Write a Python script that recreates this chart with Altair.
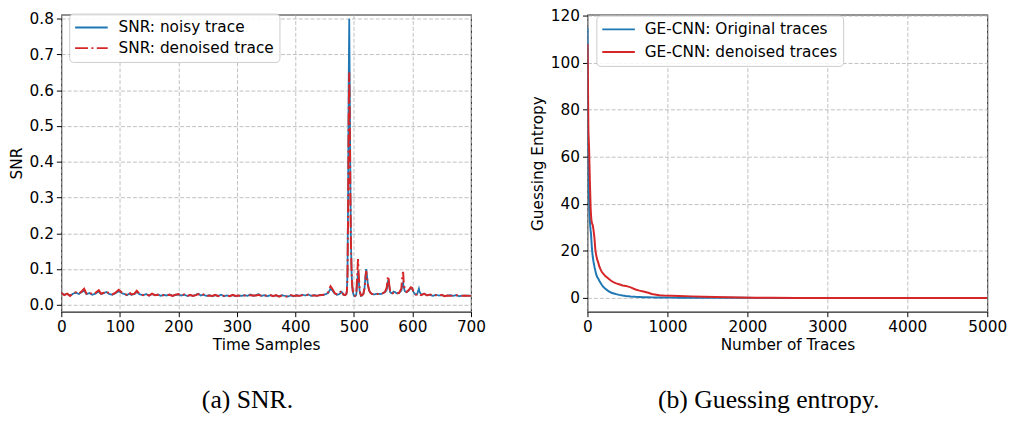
import altair as alt
import pandas as pd

# ---------------- left panel: SNR ----------------
snr_x = [0, 5, 10, 15, 20, 25, 30, 35, 39, 43,
         48, 53, 58, 64, 68, 73, 77, 82, 87, 92,
         98, 103, 108, 112, 116, 120, 125, 129, 134, 140,
         145, 150, 155, 160, 165, 170, 175, 180, 185, 190,
         195, 200, 205, 210, 215, 220, 225, 230, 234, 238,
         243, 248, 253, 258, 263, 268, 273, 278, 283, 288,
         293, 298, 303, 308, 313, 318, 323, 328, 333, 337,
         342, 347, 352, 357, 362, 367, 372, 377, 382, 387,
         392, 397, 402, 407, 412, 417, 422, 427, 432, 437,
         442, 447, 452, 456, 460, 463, 467, 471, 475, 479,
         482, 485, 487, 488, 489, 490, 491, 492, 493, 494,
         495, 496, 497, 498, 499, 500, 502, 504, 506, 507,
         508, 510, 512, 514, 516, 518, 520, 521, 522, 524,
         526, 528, 531, 535, 540, 545, 549, 553, 556, 558,
         559, 560, 562, 565, 568, 570, 573, 577, 581, 583,
         584, 585, 587, 590, 594, 597, 599, 602, 605, 608,
         610, 611, 612, 615, 620, 625, 630, 635, 640, 645,
         650, 655, 660, 665, 670, 675, 680, 685, 690, 695,
         700]
snr_noisy = [.033, .028, .030, .026, .031, .034, .030, .036, .040, .030,
             .033, .028, .031, .037, .030, .033, .036, .030, .028, .032,
             .038, .033, .030, .027, .031, .028, .030, .036, .029, .027,
             .030, .026, .030, .027, .029, .025, .028, .026, .029, .025,
             .027, .029, .026, .028, .025, .027, .025, .028, .031, .026,
             .028, .025, .027, .024, .027, .025, .028, .024, .026, .025,
             .027, .024, .026, .025, .027, .025, .029, .025, .027, .030,
             .025, .027, .024, .027, .025, .026, .024, .027, .025, .023,
             .026, .024, .027, .025, .028, .026, .029, .025, .027, .025,
             .028, .027, .030, .033, .045, .040, .032, .028, .030, .036,
             .028, .027, .030, .040, .090, .300, .620, .800, .580, .330,
             .170, .090, .055, .038, .030, .025, .024, .028, .070, .095,
             .070, .035, .025, .026, .030, .045, .085, .100, .085, .055,
             .040, .034, .030, .029, .031, .030, .032, .035, .042, .065,
             .070, .055, .035, .032, .037, .036, .032, .033, .040, .058,
             .062, .050, .038, .035, .040, .048, .046, .035, .029, .030,
             .040, .045, .037, .028, .030, .027, .028, .025, .028, .026,
             .027, .025, .026, .027, .025, .027, .024, .026, .025, .026,
             .025]
snr_denoised = [.034, .027, .031, .025, .032, .035, .031, .038, .045, .031,
                .035, .029, .033, .041, .031, .034, .038, .031, .029, .033,
                .042, .035, .031, .028, .035, .029, .031, .039, .030, .027,
                .030, .026, .031, .027, .028, .026, .027, .027, .028, .025,
                .028, .030, .025, .029, .024, .028, .025, .027, .030, .026,
                .029, .024, .026, .025, .028, .024, .027, .025, .026, .024,
                .028, .025, .026, .024, .026, .025, .027, .026, .026, .028,
                .025, .026, .025, .027, .024, .027, .023, .026, .024, .022,
                .027, .025, .026, .025, .027, .027, .028, .026, .026, .025,
                .027, .028, .030, .035, .052, .045, .033, .029, .032, .040,
                .029, .027, .030, .038, .080, .250, .520, .650, .500, .300,
                .160, .090, .055, .040, .031, .026, .025, .030, .095, .128,
                .090, .038, .026, .027, .030, .045, .080, .095, .080, .055,
                .040, .034, .030, .030, .030, .031, .032, .036, .048, .078,
                .080, .060, .036, .031, .034, .033, .032, .033, .045, .085,
                .092, .065, .040, .036, .042, .049, .048, .036, .029, .028,
                .030, .031, .029, .027, .031, .026, .029, .026, .027, .025,
                .028, .024, .026, .025, .026, .027, .025, .025, .026, .025,
                .025]

snr_x_ticks = [0, 100, 200, 300, 400, 500, 600, 700]
snr_y_ticks = [0.0, 0.1, 0.2, 0.3, 0.4, 0.5, 0.6, 0.7, 0.8]

# ---------------- right panel: guessing entropy ----------------
ge_x = [0, 4, 8, 12, 16, 20, 25, 30, 35, 40,
        45, 50, 55, 60, 66, 75, 86, 99, 110, 120,
        135, 148, 165, 180, 200, 220, 250, 272, 300, 330,
        360, 395, 440, 480, 540, 601, 650, 700, 760, 806,
        860, 900, 971, 1050, 1150, 1300, 1450, 1600, 1750, 1900,
        2100, 2300, 2600, 3000, 3500, 4000, 4500, 5000]
ge_orig = [115, 92, 70, 55, 47, 42, 37, 33, 30.5, 28.5,
           27, 24, 21.5, 19.5, 17.5, 15.5, 13.4, 11.5, 10, 9,
           8.2, 7.3, 6.3, 5.5, 4.6, 4.0, 3.2, 2.7, 2.2, 1.9,
           1.6, 1.3, 1.0, 0.8, 0.6, 0.45, 0.38, 0.32, 0.27, 0.23,
           0.2, 0.17, 0.14, 0.12, 0.1, 0.08, 0.06, 0.05, 0.04, 0.03,
           0.02, 0.01, 0, 0, 0, 0, 0, 0]
ge_den = [108, 100, 85, 70, 67, 64, 57, 50, 44, 38,
          35, 33, 32, 31.5, 31, 29, 26, 20.3, 18, 16.5,
          15, 13.4, 12, 11, 10.2, 9.4, 8.6, 7.9, 7.2, 6.6,
          6.2, 5.8, 5.3, 5.1, 4.5, 3.6, 3.1, 2.7, 2.2, 1.65,
          1.35, 1.15, 0.97, 0.9, 0.8, 0.65, 0.5, 0.4, 0.3, 0.2,
          0.1, 0.05, 0, 0, 0, 0, 0, 0]

ge_x_ticks = [0, 1000, 2000, 3000, 4000, 5000]
ge_y_ticks = [0, 20, 40, 60, 80, 100, 120]

NOISY = "SNR: noisy trace"
DENOISED = "SNR: denoised trace"
ORIG = "GE-CNN: Original traces"
DEN = "GE-CNN: denoised traces"
BLUE = "#1f77b4"
RED = "#d62728"
FONT = "DejaVu Sans"
FS = 15.5

assert len(snr_x) == len(snr_noisy) == len(snr_denoised)
assert len(ge_x) == len(ge_orig) == len(ge_den)

snr_df = pd.DataFrame({
    "x": snr_x + snr_x,
    "v": snr_noisy + snr_denoised,
    "s": [NOISY] * len(snr_x) + [DENOISED] * len(snr_x),
})
ge_df = pd.DataFrame({
    "x": ge_x + ge_x,
    "v": ge_orig + ge_den,
    "g": [ORIG] * len(ge_x) + [DEN] * len(ge_x),
})

# a 33 px long horizontal line symbol inside a 16 px legend cell
legend_common = dict(
    orient="none", title=None, symbolType="M-1,0H3.125", symbolSize=256,
    symbolStrokeWidth=2, labelFont=FONT, labelFontSize=FS, labelColor="black",
    fillColor="rgba(255,255,255,0.85)", strokeColor="#cccccc", cornerRadius=4,
    labelLimit=400, padding=5,
)

# ---- left chart ----
lx = alt.X("x:Q", scale=alt.Scale(domain=[0, 700], nice=False, zero=False),
           axis=alt.Axis(values=snr_x_ticks, title="Time Samples", format="d"))
ly = alt.Y("v:Q", scale=alt.Scale(domain=[-0.0193, 0.8117], nice=False, zero=False),
           axis=alt.Axis(values=snr_y_ticks, title="SNR", format=".1f"))
left_legend = dict(legendX=8, legendY=-1, rowPadding=3, labelOffset=27, **legend_common)
lcolor = alt.Color("s:N", scale=alt.Scale(domain=[NOISY, DENOISED], range=[BLUE, RED]),
                   legend=alt.Legend(**left_legend))
ldash = alt.StrokeDash("s:N", scale=alt.Scale(domain=[NOISY, DENOISED],
                                              range=[[1, 0], [13, 3.5, 2, 3.5]]),
                       legend=alt.Legend(**left_legend))

lbase = alt.Chart(snr_df)
left = alt.layer(
    lbase.transform_filter(alt.datum.s == NOISY).mark_line(strokeWidth=1.8, clip=True)
    .encode(x=lx, y=ly, color=lcolor, strokeDash=ldash),
    lbase.transform_filter(alt.datum.s == DENOISED).mark_line(strokeWidth=2, clip=True)
    .encode(x=lx, y=ly, color=lcolor, strokeDash=ldash),
).properties(
    width=415, height=301,
    title=alt.TitleParams("(a) SNR.", orient="bottom", anchor="middle", frame="bounds",
                          font="Liberation Serif", fontSize=26, fontWeight="normal",
                          color="black", offset=35),
)

# ---- right chart ----
rx = alt.X("x:Q", scale=alt.Scale(domain=[0, 5000], nice=False, zero=False),
           axis=alt.Axis(values=ge_x_ticks, title="Number of Traces", format="d"))
ry = alt.Y("v:Q", scale=alt.Scale(domain=[-5.87, 120.52], nice=False, zero=False),
           axis=alt.Axis(values=ge_y_ticks, title="Guessing Entropy", format="d"))
rcolor = alt.Color("g:N", scale=alt.Scale(domain=[ORIG, DEN], range=[BLUE, RED]),
                   legend=alt.Legend(legendX=9, legendY=1, rowPadding=5,
                                     labelOffset=26, **legend_common))
rbase = alt.Chart(ge_df)
right = alt.layer(
    rbase.transform_filter(alt.datum.g == ORIG).mark_line(strokeWidth=2, clip=True)
    .encode(x=rx, y=ry, color=rcolor),
    rbase.transform_filter(alt.datum.g == DEN).mark_line(strokeWidth=2, clip=True)
    .encode(x=rx, y=ry, color=rcolor),
).properties(
    width=405, height=301,
    title=alt.TitleParams("(b) Guessing entropy.", orient="bottom", anchor="middle",
                          frame="bounds", font="Liberation Serif", fontSize=26,
                          fontWeight="normal", color="black", offset=35),
)

chart = alt.hconcat(left, right, spacing=43).resolve_scale(
    color="independent", strokeDash="independent"
).resolve_legend(color="independent", strokeDash="independent").properties(
    padding={"left": 0, "top": -3, "right": 0, "bottom": 0}
).configure_view(
    stroke="#262626", strokeWidth=1.1
).configure_axis(
    labelFont=FONT, labelFontSize=FS, labelColor="black",
    titleFont=FONT, titleFontSize=FS, titleFontWeight="normal", titleColor="black",
    tickColor="black", tickSize=5, tickWidth=1, labelPadding=3, titlePadding=4,
    domain=False, grid=True, gridColor="#b0b0b0", gridDash=[4, 2], gridWidth=0.8,
    labelFlush=False, labelOverlap=False,
).configure_axisX(titlePadding=3).configure_axisY(titlePadding=5)

chart.save("out.html", embed_options={"renderer": "svg", "actions": False})
